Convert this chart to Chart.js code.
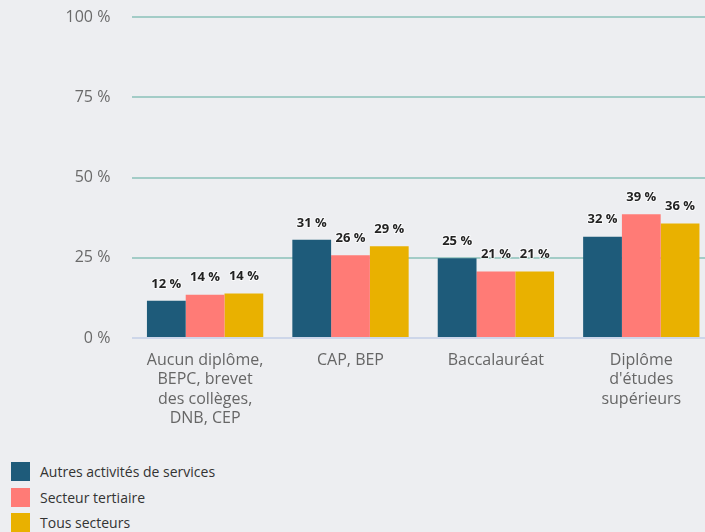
<!DOCTYPE html>
<html lang="fr">
<head>
<meta charset="utf-8">
<script src="https://cdn.jsdelivr.net/npm/chart.js@4/dist/chart.umd.min.js"></script>
<style>
  html, body { margin: 0; padding: 0; background: #edeef1; overflow: hidden; }
  body { width: 705px; height: 532px; position: relative; font-family: "Open Sans", sans-serif; }
  #wrap { position: absolute; left: 0; top: 0; width: 714px; height: 440px; }
  #legend { position: absolute; left: 11px; top: 462px; margin: 0; padding: 0; list-style: none; }
  #legend li { position: relative; height: 25.5px; font-size: 14px; color: #333; }
  #legend span.box { position: absolute; left: 0; top: 0; width: 19px; height: 19px; }
  #legend span.txt { position: absolute; left: 29px; top: 0; line-height: 19px; white-space: nowrap; }
</style>
</head>
<body>
<div id="wrap"><canvas id="chart"></canvas></div>
<ul id="legend"></ul>
<script>
  // categories and series
  var categories = [
    ["Aucun diplôme,", "BEPC, brevet", "des collèges,", "DNB, CEP"],
    "CAP, BEP",
    "Baccalauréat",
    ["Diplôme", "d'études", "supérieurs"]
  ];
  var seriesNames = ["Autres activités de services", "Secteur tertiaire", "Tous secteurs"];
  var autresServices = [11.6, 30.6, 24.9, 31.6];
  var secteurTertiaire = [13.5, 25.8, 20.7, 38.6];
  var tousSecteurs = [13.9, 28.6, 20.7, 35.7];
  var seriesColors = ["#1e5b7a", "#ff7b76", "#e9b100"];
  var yTicks = [0, 25, 50, 75, 100];

  // value labels above each bar
  var barLabels = {
    id: 'barLabels',
    afterDatasetsDraw: function(chart) {
      var ctx = chart.ctx;
      ctx.save();
      ctx.font = 'bold 13px "Open Sans"';
      ctx.textAlign = 'center';
      ctx.textBaseline = 'middle';
      ctx.lineJoin = 'round';
      chart.data.datasets.forEach(function(ds, i) {
        chart.getDatasetMeta(i).data.forEach(function(bar, j) {
          var txt = Math.round(ds.data[j]) + ' %';
          ctx.lineWidth = 2;
          ctx.strokeStyle = 'rgba(255,255,255,0.7)';
          ctx.strokeText(txt, bar.x, bar.y - 17);
          ctx.fillStyle = '#222';
          ctx.fillText(txt, bar.x, bar.y - 17);
        });
      });
      ctx.restore();
    }
  };

  var chart = new Chart(document.getElementById('chart'), {
    type: 'bar',
    data: {
      labels: categories,
      datasets: [
        { label: seriesNames[0], data: autresServices, backgroundColor: seriesColors[0] },
        { label: seriesNames[1], data: secteurTertiaire, backgroundColor: seriesColors[1] },
        { label: seriesNames[2], data: tousSecteurs, backgroundColor: seriesColors[2] }
      ]
    },
    options: {
      responsive: true,
      maintainAspectRatio: false,
      animation: false,
      layout: { padding: { top: 17.3, left: 0, right: 0, bottom: 0 } },
      datasets: { bar: { categoryPercentage: 0.8, barPercentage: 1.0, borderWidth: 0 } },
      plugins: {
        legend: { display: false },
        tooltip: { enabled: false }
      },
      scales: {
        x: {
          grid: { display: false },
          border: { display: false },
          ticks: {
            color: '#666',
            font: { family: 'Open Sans', size: 16, lineHeight: 1.2 },
            padding: 5,
            maxRotation: 0,
            autoSkip: false
          },
          afterFit: function(scale) { scale.height = 102; }
        },
        y: {
          min: 0,
          max: 100,
          afterBuildTicks: function(scale) {
            scale.ticks = yTicks.map(function(v) { return { value: v }; });
          },
          grid: {
            drawTicks: false,
            lineWidth: 2,
            color: function(c) { return c.tick && c.tick.value === 0 ? '#cdd6e9' : '#a3ccc7'; }
          },
          border: { display: false },
          ticks: {
            color: '#6a6a6a',
            font: { family: 'Open Sans', size: 16 },
            padding: 22,
            callback: function(v) { return v + ' %'; }
          },
          afterFit: function(scale) {
            scale.width = 132.4;
            scale.paddingTop = 0;
            scale.paddingBottom = 0;
          }
        }
      }
    },
    plugins: [barLabels]
  });

  // legend built from the datasets
  var legend = document.getElementById('legend');
  chart.data.datasets.forEach(function(ds) {
    var li = document.createElement('li');
    var box = document.createElement('span');
    box.className = 'box';
    box.style.background = ds.backgroundColor;
    var txt = document.createElement('span');
    txt.className = 'txt';
    txt.textContent = ds.label;
    li.appendChild(box);
    li.appendChild(txt);
    legend.appendChild(li);
  });
</script>
</body>
</html>
